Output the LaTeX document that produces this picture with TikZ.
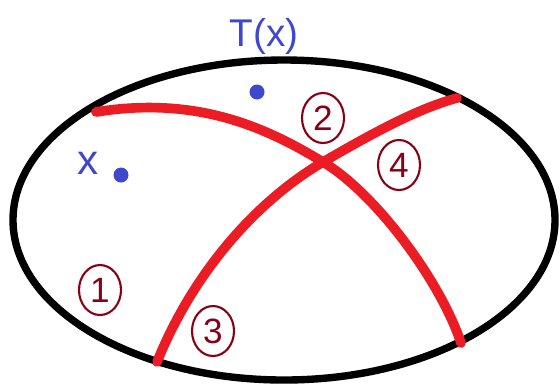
\documentclass[tikz,border=0pt]{standalone}
\usepackage{fontspec}
\setmainfont{Liberation Sans}
\usetikzlibrary{shapes.geometric}

\begin{document}
\begin{tikzpicture}[x=0.02cm, y=-0.02cm]
  \definecolor{pen}{HTML}{EC1C24}
  \definecolor{ink}{HTML}{3F48CC}
  \definecolor{wine}{HTML}{880015}
  \tikzset{
    cut/.style={pen, line width=5.5pt, line cap=round},
    region/.style={draw=wine, ellipse, line width=1.2pt, minimum width=0.84cm, minimum height=1cm, inner sep=0pt, text=wine, font=\fontsize{20}{20}\selectfont},
    point/.style={circle, fill=ink, inner sep=0pt, minimum size=0.3cm},
  }
  \useasboundingbox (0,0) rectangle (560,387);

  % the space
  \draw[line width=4.2pt] (284,220) ellipse [x radius=271, y radius=160];

  % the two cuts
  \coordinate (a1) at (96,112);
  \coordinate (a2) at (461,343);
  \coordinate (b1) at (157,362);
  \coordinate (b2) at (457,98);
  \coordinate (X) at (323,162);
  \draw[cut] (a1) .. controls (200,95) and (270,130) .. (X) .. controls (375,193) and (440,280) .. (a2);
  \draw[cut] (b1) .. controls (190,280) and (250,205) .. (X) .. controls (378,130) and (420,108) .. (b2);

  % points
  \node[point] (x) at (121,175) {};
  \node[point] (Tx) at (257,92) {};
  \node[text=ink, font=\fontsize{24}{24}\selectfont] (xlabel) at (88,163) {x};
  \node[text=ink, font=\fontsize{22}{22}\selectfont] (Txlabel) at (264,36) {T(x)};

  % regions
  \node[region] (r1) at (100,290) {1};
  \node[region] (r2) at (323,118) {2};
  \node[region] (r3) at (213,331) {3};
  \node[region] (r4) at (399,165) {4};
\end{tikzpicture}
\end{document}
